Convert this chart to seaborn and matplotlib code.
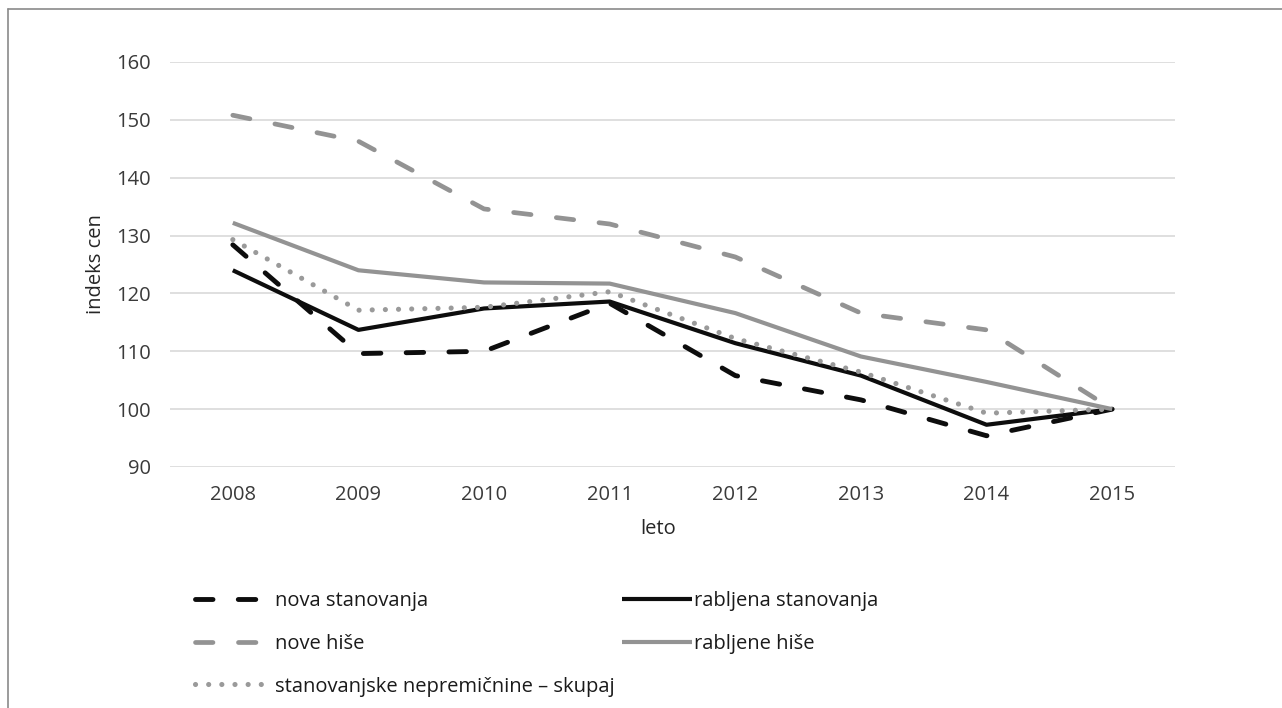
import matplotlib
matplotlib.use("Agg")
import matplotlib.pyplot as plt
from matplotlib.lines import Line2D
import seaborn as sns
import pandas as pd

# Indeksi cen stanovanjskih nepremičnin (2015 = 100)
years = [2008, 2009, 2010, 2011, 2012, 2013, 2014, 2015]
nova_stanovanja = [128.4, 109.6, 110.0, 118.3, 105.8, 101.6, 95.4, 100.0]
rabljena_stanovanja = [124.0, 113.7, 117.4, 118.6, 111.4, 105.8, 97.3, 100.0]
nove_hise = [150.8, 146.3, 134.6, 132.0, 126.3, 116.6, 113.7, 100.0]
rabljene_hise = [132.2, 124.0, 121.9, 121.7, 116.6, 109.1, 104.7, 100.0]
skupaj = [129.3, 117.1, 117.6, 120.3, 112.2, 106.4, 99.3, 100.0]

series_names = [
    "nova stanovanja",
    "rabljena stanovanja",
    "nove hiše",
    "rabljene hiše",
    "stanovanjske nepremičnine – skupaj",
]
series_values = [nova_stanovanja, rabljena_stanovanja, nove_hise, rabljene_hise, skupaj]

y_ticks = [90, 100, 110, 120, 130, 140, 150, 160]
x_label = "leto"
y_label = "indeks cen"

BLACK = "#0d0d0d"
GREY = "#939393"
DOTGREY = "#9a9a9a"

styles = {
    "nova stanovanja": dict(color=BLACK, linewidth=3.5, linestyle=(0, (3.6, 5.2)),
                            dash_capstyle="round"),
    "rabljena stanovanja": dict(color=BLACK, linewidth=3.0, linestyle="-"),
    "nove hiše": dict(color=GREY, linewidth=3.4, linestyle=(0, (3.7, 5.4)),
                      dash_capstyle="round"),
    "rabljene hiše": dict(color=GREY, linewidth=3.0, linestyle="-"),
    "stanovanjske nepremičnine – skupaj": dict(color=DOTGREY, linewidth=3.7,
                                               linestyle=(0, (0.01, 2.55)),
                                               dash_capstyle="round"),
}

df = pd.DataFrame(
    [(y, name, v) for name, vals in zip(series_names, series_values)
     for y, v in zip(years, vals)],
    columns=["leto", "serija", "indeks"],
)

sns.set_theme(style="white")
plt.rcParams["font.family"] = ["Open Sans", "DejaVu Sans"]

W, H = 1282, 708
fig = plt.figure(figsize=(W / 100, H / 100), dpi=100)
fig.patch.set_facecolor("white")
ax = fig.add_axes([170 / W, 1 - 467 / H, 1005 / W, 405 / H])

for name in series_names:
    sub = df[df["serija"] == name]
    sns.lineplot(data=sub, x="leto", y="indeks", ax=ax, label=name,
                 legend=False, solid_capstyle="butt", **styles[name])

ax.set_xlim(2007.5, 2015.5)
ax.set_ylim(90, 160)
ax.set_xticks(years)
ax.set_xticklabels([str(y) for y in years])
ax.set_yticks(y_ticks)
ax.yaxis.grid(True, color="#d9d9d9", linewidth=1.2)
ax.set_axisbelow(True)
for s in ax.spines.values():
    s.set_visible(False)
ax.tick_params(axis="both", length=0, labelsize=14.5, labelcolor="#3a3a3a")
ax.tick_params(axis="y", pad=14)
ax.tick_params(axis="x", pad=13)

ax.set_ylabel(y_label, fontsize=14.5, color="#262626", labelpad=7)
ax.set_xlabel(x_label, fontsize=14.5, color="#262626")
ax.xaxis.set_label_coords(0.4856, -0.128)

# Legenda v dveh stolpcih pod grafikonom
lines = {name: ln for name, ln in zip(series_names, ax.get_lines())}
col1 = ["nova stanovanja", "nove hiše", "stanovanjske nepremičnine – skupaj"]
col2 = ["rabljena stanovanja", "rabljene hiše"]
common = dict(loc="upper left", frameon=False, borderpad=0, borderaxespad=0,
              handlelength=3.5, labelspacing=1.13, fontsize=14.5,
              labelcolor="#1a1a1a")
fig.legend([lines[n] for n in col1], col1,
           bbox_to_anchor=(195 / W, 1 - 591 / H), handletextpad=0.45, **common)
fig.legend([lines[n] for n in col2], col2,
           bbox_to_anchor=(622 / W, 1 - 591 / H), handletextpad=0.1, **common)

# Okvir slike (levi in zgornji rob)
frame_kw = dict(transform=fig.transFigure, color="#8a8a8a", linewidth=1.2)
fig.add_artist(Line2D([8 / W, 8 / W], [0, 1 - 9 / H], **frame_kw))
fig.add_artist(Line2D([8 / W, 1], [1 - 9 / H, 1 - 9 / H], **frame_kw))

fig.savefig("out.png", dpi=100, facecolor="white")
